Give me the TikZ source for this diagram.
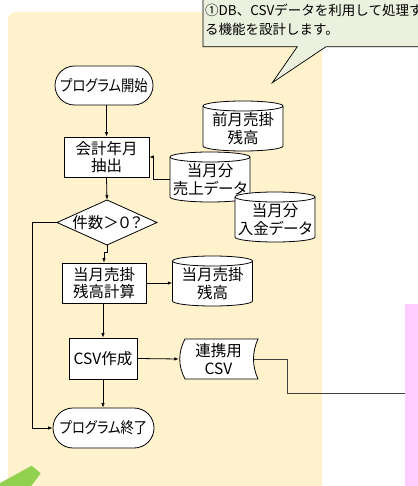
\documentclass[tikz,border=0pt]{standalone}
\usepackage{graphicx}
\usepackage{fontspec}
\setmainfont[RawFeature=+palt]{Noto Sans CJK JP}
\newfontfamily\callfont{Noto Sans CJK JP}
\usetikzlibrary{arrows.meta,calc}
\definecolor{ybg}{HTML}{FFF2CC}
\definecolor{callc}{HTML}{EBF1DE}
\definecolor{pinkc}{HTML}{FFCCFF}
\definecolor{greenc}{HTML}{92D050}
\newcommand\dbcyl[4]{%
  \draw[shp] (#2-40,#3-20) -- (#2-40,#3+20) arc[start angle=180,end angle=360,x radius=40pt,y radius=5pt] -- (#2+40,#3-20) arc[start angle=0,end angle=180,x radius=40pt,y radius=5pt] -- cycle;
  \draw[shp,fill=none] (#2-40,#3-20) arc[start angle=180,end angle=360,x radius=40pt,y radius=5pt];
  \node[txt, minimum width=80pt, minimum height=45pt] (#1) at (#2,#3+2.5) {#4};%
}
\newcommand\narrow[1]{\scalebox{0.86}[1]{#1}}
\begin{document}
\begin{tikzpicture}[x=1pt,y=-1pt,
  txt/.style={font=\fontsize{15.5}{17.5}\selectfont, align=center, inner sep=0pt},
  box/.style={txt, draw, fill=white, line width=0.8pt},
  shp/.style={draw, fill=white, line width=0.8pt},
  arr/.style={line width=0.8pt, -{Latex[length=4.5pt,width=3.5pt]}},
  ln/.style={line width=0.8pt}]
\useasboundingbox (0,0) rectangle (417,486);
% background areas
\fill[ybg] (8,490) -- (8,20) arc[start angle=180,end angle=90,radius=8pt] -- (322,12) -- (322,490) -- cycle;
\fill[greenc] (31.7,465.7) -- (40.7,473.3) -- (28.4,490) -- (-5,490) -- (-5,485.8) -- cycle;
\node[fill=pinkc, minimum width=20pt, minimum height=190pt, anchor=north west, inner sep=0pt] (pink) at (405,304) {};
% callout
\draw[fill=callc, line width=0.7pt] (203,-5) -- (203,46.7) -- (297.3,46.7) -- (272.3,82.7) -- (326,46.7) -- (425,46.7) -- (425,-5) -- cycle;
\node[anchor=north west, font=\callfont\fontsize{13.5}{19}\selectfont, align=left, inner sep=0pt] (note) at (205,4) {①DB、CSVデータを利用して処理す\\る機能を設計します。};
% flow nodes
\node[box, rounded corners=19.5pt, minimum width=98pt, minimum height=39pt] (start) at (104,85.5) {\narrow{プログラム開始}};
\node[box, minimum width=85pt, minimum height=40pt] (kaikei) at (106.5,157) {会計年月\\抽出};
\draw[shp] (107,200) -- (157,222.5) -- (107,245) -- (57,222.5) -- cycle;
\node[txt, minimum width=100pt, minimum height=45pt] (cond) at (107,222.5) {件数＞０？};
\dbcyl{A}{243}{126}{前月売掛\\残高}
\dbcyl{B}{210}{177}{当月分\\売上データ}
\dbcyl{C}{275}{217}{当月分\\入金データ}
\node[box, minimum width=84pt, minimum height=40pt] (calc) at (104,283) {当月売掛\\残高計算};
\dbcyl{D}{212.5}{281}{当月売掛\\残高}
\node[box, minimum width=68pt, minimum height=41pt] (csv) at (103,358.5) {CSV作成};
\draw[shp] (258,339) .. controls (252,352) and (252,366) .. (258,379) -- (185,379) .. controls (178,366) and (178,352) .. (185,339) -- cycle;
\node[txt, minimum width=79pt, minimum height=40pt] (store) at (218.5,359) {連携用\\CSV};
\node[box, rounded corners=20pt, minimum width=101pt, minimum height=40pt] (end) at (103.5,428) {\narrow{プログラム終了}};
% connectors
\coordinate (lp) at (32,0);
\coordinate (j) at (287,393);
\draw[arr] (start.south -| kaikei.north) -- (kaikei.north);
\draw[arr] (B.west) -- ++(-16,0) |- (kaikei.east);
\draw[arr] (kaikei.south) -- (cond.north);
\draw[arr] (cond.west) -- (cond.west -| lp) |- (end.west);
\draw[arr] (cond.south) -- ++(0,7) -| (calc.north);
\draw[arr] (calc.east) -- (calc.east -| D.west);
\draw[arr] (calc.south -| csv.north) -- (csv.north);
\draw[arr] (csv.east) -- (store.west);
\draw[arr] (csv.south) -- (csv.south |- end.north);
\draw[ln, black!75] ([xshift=-4.5pt]store.east) -| (j) -- (j -| pink.west);
\end{tikzpicture}
\end{document}
